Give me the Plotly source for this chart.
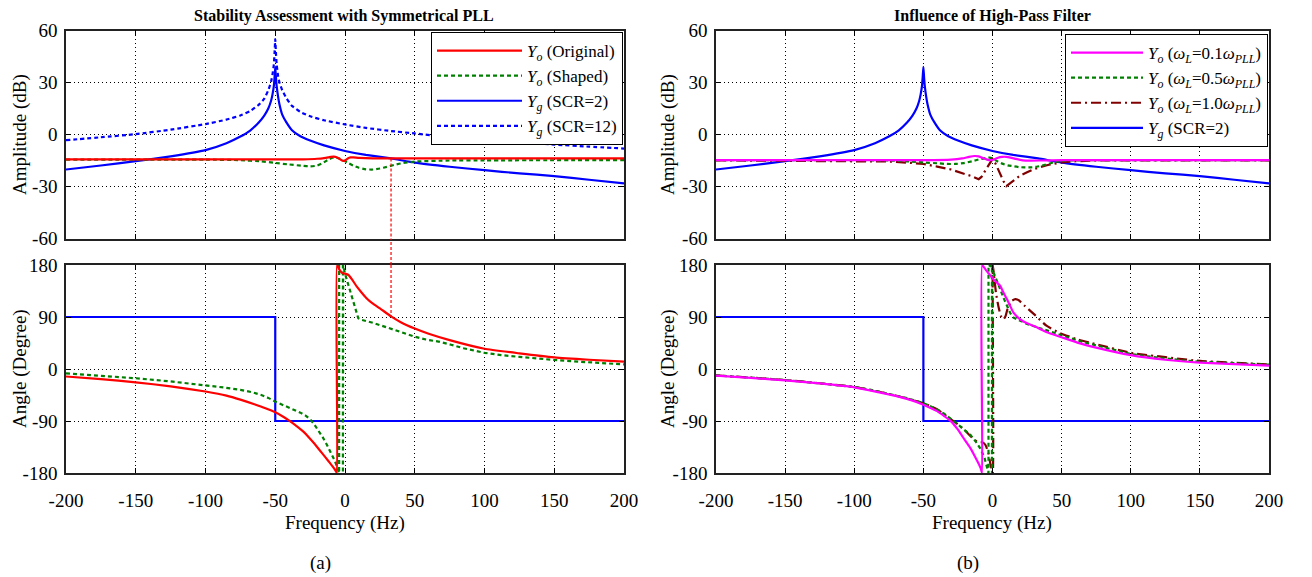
import plotly.graph_objects as go

REF_W, REF_H = 1312, 577
OFF = 8                      # browser body margin
W, H = REF_W - OFF, REF_H - OFF
SERIF = "Liberation Serif, Times New Roman, serif"

# ---------------- tick data ----------------
freq_ticks = [-200, -150, -100, -50, 0, 50, 100, 150, 200]
freq_ticktext = ['-200', '-150', '-100', '-50', '0', '50', '100', '150', '200']
amp_ticks = [-60, -30, 0, 30, 60]
amp_ticktext = ['-60', '-30', '0', '30', '60']
ang_ticks = [-180, -90, 0, 90, 180]
ang_ticktext = ['-180', '-90', '0', '90', '180']

# ---------------- amplitude data (dB) ----------------
yg_f = [-200, -175, -150, -125, -100, -85, -75, -68, -62, -58, -55, -53, -52, -51, -50.5, -50, -49.5, -49, -48, -47,
        -45, -42, -38, -32, -25, -15, 0, 15, 33, 50, 75, 100, 125, 150, 175, 200]
yg2_db = [-20.2, -17.9, -15.4, -12.6, -9.0, -5.0, -1.2, 2.3, 6.8, 10.8, 15.0, 19.5, 23.0, 28.0, 33.0, 39.0, 33.0, 28.0,
          22.0, 17.5, 11.5, 7.0, 2.5, -1.0, -3.5, -6.3, -9.5, -11.8, -13.8, -16.2, -18.6, -20.6, -22.4, -24.0, -26.1, -28.2]
yg12_db = [-3.3, -1.6, 0.2, 2.8, 6.0, 8.6, 11.0, 13.5, 17.0, 20.5, 25.5, 30.5, 34.5, 40.5, 47.0, 55.0, 47.0, 40.5,
           34.0, 30.0, 25.5, 21.0, 16.5, 13.0, 10.5, 8.2, 5.8, 3.8, 2.0, 0.6, -1.5, -3.3, -4.6, -5.8, -7.0, -8.1]

yo_orig_f = [-200, -100, -50, -30, -20, -15, -12, -10, -8, -6, -4, -2, -1, 0, 2, 4, 6, 10, 20, 50, 100, 200]
yo_orig_db = [-14.4, -14.4, -14.4, -14.3, -14.0, -13.6, -13.2, -12.9, -12.8, -13.1, -14.0, -15.0, -15.3, -15.0, -13.8,
              -13.2, -13.2, -13.5, -13.8, -13.8, -13.8, -13.8]

yo_shaped_f = [-200, -100, -75, -60, -50, -40, -30, -25, -20, -16, -12, -9, -7, -4, -1, 2, 6, 10, 15, 20, 25, 30, 35,
               40, 50, 75, 100, 200]
yo_shaped_db = [-14.5, -14.5, -14.8, -15.5, -16.4, -17.3, -18.1, -18.4, -18.0, -16.5, -14.5, -13.4, -13.3, -13.8,
                -15.0, -16.3, -18.0, -19.2, -20.1, -20.2, -19.6, -18.7, -17.6, -16.7, -15.6, -15.0, -14.9, -14.8]

hp01_f = [-200, -100, -50, -30, -22, -17, -13, -10, -7, -4, -1, 1, 4, 7, 10, 13, 17, 22, 27, 35, 50, 100, 200]
hp01_db = [-14.8, -14.8, -14.8, -14.5, -13.8, -12.9, -12.4, -12.6, -13.5, -14.5, -14.8, -14.4, -13.4, -12.9, -12.9,
           -13.3, -14.1, -14.9, -15.1, -15.0, -14.8, -14.8, -14.8]

hp05_f = [-200, -100, -75, -60, -50, -40, -33, -27, -21, -15, -9, -5, -2, 0, 3, 7, 11, 15, 19, 23, 27, 32, 38, 44, 50,
          60, 100, 200]
hp05_db = [-14.8, -14.8, -15.0, -15.6, -16.1, -16.6, -17.0, -17.0, -16.5, -15.5, -14.2, -13.6, -13.3, -13.8, -15.2,
           -16.8, -17.8, -18.3, -18.8, -19.0, -19.0, -18.6, -17.5, -16.1, -15.2, -14.9, -14.8, -14.8]

hp10_f = [-200, -100, -75, -60, -50, -40, -30, -20, -15, -10, -8, -5, -2, 0, 2, 5, 8, 10, 12, 15, 20, 25, 30, 35, 40,
          50, 60, 75, 100, 200]
hp10_db = [-14.9, -15.2, -15.6, -16.3, -17.0, -18.5, -20.2, -22.8, -24.0, -25.8, -24.5, -20.5, -16.2, -14.2, -16.5,
           -22.0, -27.0, -29.8, -28.5, -26.5, -23.7, -21.8, -20.0, -18.7, -17.6, -16.1, -15.4, -15.0, -14.9, -14.9]

# ---------------- phase data (degree) ----------------
yg_ph_f = [-200, -50, -50, 200]
yg_ph_deg = [90, 90, -90, -90]

yo_orig_ph_f = [-200, -175, -150, -125, -100, -85, -75, -65, -57, -50, -44, -39, -34, -30, -26, -22, -18, -14, -11,
                -8.5, -6.8, -5.8, -5.8, -4, -2, 0, 2.5, 5, 8.5, 12, 15.6, 20, 25, 33, 40, 50, 60, 75, 100, 125, 150,
                175, 200]
yo_orig_ph_deg = [-13, -17.5, -23, -30, -39, -46, -53, -61, -68, -75, -83, -91, -100, -108, -118, -129, -141, -153,
                  -162, -170, -176, -180, 180, 172, 166, 165, 162.7, 155, 142.5, 132, 122, 113, 105, 91, 81, 70,
                  61, 50, 35, 27, 20, 16, 12.7]

yo_shaped_ph_f = [-200, -175, -150, -125, -100, -87, -75, -67, -60, -55, -50, -45, -40, -36, -32, -28, -25, -22, -19,
                  -16, -13, -10, -7.5, -5.5, -4.2, -4.2, -2.2, -1.5, -1.5, -1.3, -1.3, 0, 1.3, 2.7, 4, 5, 6, 7, 8, 9.5,
                  12, 16, 20, 25, 30, 35, 40, 45, 50, 58, 68, 76, 85, 100, 112, 125, 137, 150, 162, 175, 187, 200]
yo_shaped_ph_deg = [-7.5, -11.5, -16, -21.5, -28, -32, -36, -40, -45, -50, -56.5, -61.5, -67, -71, -75.5, -81, -87,
                    -96, -106, -118, -131, -145, -158, -170, -180, 180, 178, 180, -180, -180, 180, 165, 154, 143, 133,
                    123, 114, 105, 96, 88, 85, 83, 80, 76, 72, 68, 64.5, 60, 56, 51, 47, 42, 36, 28, 24, 21, 18, 15.6,
                    13.5, 11.5, 9.7, 8]

hp01_ph_f = [-200, -175, -150, -125, -100, -75, -60, -50, -40, -30, -25, -20, -16, -13, -10, -8.5, -7.5, -7.5, -5, -2,
             0.8, 3, 5.6, 8, 10.4, 13, 15.2, 20, 25, 30, 40, 50, 62, 75, 100, 125, 150, 175, 200]
hp01_ph_deg = [-11.6, -15.5, -19.6, -25, -31.7, -44, -53, -61.7, -73, -90.6, -105, -123, -137, -150, -164, -172, -180,
               180, 172, 163, 155, 150, 144, 132, 121, 108, 97.5, 86, 79, 74.3, 63, 55, 45.3, 37, 24, 16, 11, 8.5, 6]

hp05_ph_f = [-200, -175, -150, -125, -100, -87, -75, -62, -50, -45, -40, -35, -30, -27, -24, -20, -16, -12, -9, -6,
             -4.2, -2.9, -2.9, -1.5, -0.4, -0.4, -0.2, -0.2, 0.8, 3, 5.6, 8, 10.4, 13, 15.2, 20, 25, 30, 35, 40, 45,
             50, 56, 62, 68, 75, 87, 100, 112, 125, 137, 150, 162, 175, 187, 200]
hp05_ph_deg = [-11, -15, -19, -25, -31, -36.5, -43, -50.5, -59, -64, -70, -77.5, -86, -92, -98, -106, -114, -126, -137,
               -152, -170, -180, 180, 178, 180, -180, -180, 180, 167, 152, 138, 123, 109, 96, 89, 83, 78, 74, 70, 66,
               62.5, 59, 54, 49, 45, 41, 33, 26, 22, 18, 15, 12.5, 11, 9.5, 8.5, 7.5]

hp10_ph_f = [-200, -150, -100, -75, -50, -40, -30, -25, -20, -16, -13, -10, -7, -5, -3, -1.5, 0.2, 0.2, 1.2, 2.5, 4.3,
             6, 8, 9.5, 11, 14, 16.5, 19, 23, 30, 39, 49, 62, 75, 100, 150, 200]
hp10_ph_deg = [-11, -19, -31, -43, -59, -70, -87, -96, -106, -116, -123, -126, -127, -132, -145, -165, -180, 180, 160,
               132, 108, 92, 86, 92, 105, 118, 121, 119, 110, 95, 75, 62, 51, 43, 28, 14, 8]

# crossing marker (Yo original meets Yg SCR=2)
cross_freq = 33
cross_amp = -13.8
cross_phase = 91

# ---------------- colours / styles ----------------
RED = '#ff0000'
GREEN = '#008000'
BLUE = '#0000ff'
MAGENTA = '#ff00ff'
DARKRED = '#800000'
LW = 2.2
SHORTDASH = '4px,3px'
DASHDOT = '10px,4px,2px,4px'

fig = go.Figure()


def add(x, y, xa, ya, color, dash='solid', name=None, legend=None, rank=None, width=LW, smooth=True):
    fig.add_trace(go.Scatter(
        x=x, y=y, xaxis=xa, yaxis=ya, mode='lines',
        line=dict(color=color, width=width, dash=dash,
                  shape='spline' if smooth else 'linear', smoothing=0.4),
        name=name if name else '', showlegend=name is not None,
        legend=legend if legend else 'legend', legendrank=rank if rank else 1000,
        hoverinfo='skip'))


# left top
add(yg_f, yg12_db, 'x', 'y', BLUE, SHORTDASH, '<i>Y</i><sub><i>g</i></sub> (SCR=12)', 'legend', 4)
add(yg_f, yg2_db, 'x', 'y', BLUE, 'solid', '<i>Y</i><sub><i>g</i></sub> (SCR=2)', 'legend', 3)
add(yo_shaped_f, yo_shaped_db, 'x', 'y', GREEN, SHORTDASH, '<i>Y</i><sub><i>o</i></sub> (Shaped)', 'legend', 2)
add(yo_orig_f, yo_orig_db, 'x', 'y', RED, 'solid', '<i>Y</i><sub><i>o</i></sub> (Original)', 'legend', 1)

# right top
add(yg_f, yg2_db, 'x2', 'y2', BLUE, 'solid', '<i>Y</i><sub><i>g</i></sub> (SCR=2)', 'legend2', 4)
add(hp10_f, hp10_db, 'x2', 'y2', DARKRED, DASHDOT,
    '<i>Y</i><sub><i>o</i></sub> (<i>ω</i><sub><i>L</i></sub>=1.0<i>ω</i><sub><i>PLL</i></sub>)', 'legend2', 3,
    smooth=False)
add(hp05_f, hp05_db, 'x2', 'y2', GREEN, SHORTDASH,
    '<i>Y</i><sub><i>o</i></sub> (<i>ω</i><sub><i>L</i></sub>=0.5<i>ω</i><sub><i>PLL</i></sub>)', 'legend2', 2)
add(hp01_f, hp01_db, 'x2', 'y2', MAGENTA, 'solid',
    '<i>Y</i><sub><i>o</i></sub> (<i>ω</i><sub><i>L</i></sub>=0.1<i>ω</i><sub><i>PLL</i></sub>)', 'legend2', 1)

# left bottom
add(yg_ph_f, yg_ph_deg, 'x3', 'y3', BLUE, smooth=False)
add(yo_shaped_ph_f, yo_shaped_ph_deg, 'x3', 'y3', GREEN, SHORTDASH, smooth=False)
add(yo_orig_ph_f, yo_orig_ph_deg, 'x3', 'y3', RED)

# right bottom
add(yg_ph_f, yg_ph_deg, 'x4', 'y4', BLUE, smooth=False)
add(hp10_ph_f, hp10_ph_deg, 'x4', 'y4', DARKRED, DASHDOT)
add(hp05_ph_f, hp05_ph_deg, 'x4', 'y4', GREEN, SHORTDASH, smooth=False)
add(hp01_ph_f, hp01_ph_deg, 'x4', 'y4', MAGENTA)


# ---------------- layout (reference pixel positions -> paper fractions) ----------------
def px(x):
    return (x - OFF) / W


def py(y):
    return 1 - (y - OFF) / H


XL = [px(66), px(624)]
XR = [px(716), px(1269)]
YT = [py(238.5), py(30.5)]
YB = [py(473), py(265)]

tickfont = dict(family=SERIF, size=19, color='black')
GRID = '1px,3px'


def xax(domain, anchor, labels):
    return dict(domain=domain, anchor=anchor, range=[-200, 200], tickvals=freq_ticks, ticktext=freq_ticktext,
                showticklabels=labels, ticks='inside', ticklen=5, tickcolor='black', tickwidth=1,
                showline=True, linecolor='#222222', linewidth=1.5, mirror='ticks',
                showgrid=True, gridcolor='black', gridwidth=1, griddash=GRID, zeroline=False,
                tickfont=tickfont, ticklabelstandoff=9)


def yax(domain, anchor, ticks, text, rng):
    return dict(domain=domain, anchor=anchor, range=rng, tickvals=ticks, ticktext=text,
                ticks='inside', ticklen=5, tickcolor='black', tickwidth=1,
                showline=True, linecolor='#222222', linewidth=1.5, mirror='ticks',
                showgrid=True, gridcolor='black', gridwidth=1, griddash=GRID, zeroline=False,
                tickfont=tickfont, ticklabelstandoff=3)


legend_common = dict(bgcolor='white', bordercolor='black', borderwidth=1,
                     font=dict(family=SERIF, size=17, color='black'), tracegroupgap=0,
                     yanchor='top', xanchor='right', traceorder='normal')

fig.update_layout(
    width=W, height=H, margin=dict(l=0, r=0, t=0, b=0, autoexpand=False),
    paper_bgcolor='white', plot_bgcolor='white',
    font=dict(family=SERIF, size=19, color='black'),
    xaxis=xax(XL, 'y', False),
    yaxis=yax(YT, 'x', amp_ticks, amp_ticktext, [-60, 60]),
    xaxis2=xax(XR, 'y2', False),
    yaxis2=yax(YT, 'x2', amp_ticks, amp_ticktext, [-60, 60]),
    xaxis3=xax(XL, 'y3', True),
    yaxis3=yax(YB, 'x3', ang_ticks, ang_ticktext, [-180, 180]),
    xaxis4=xax(XR, 'y4', True),
    yaxis4=yax(YB, 'x4', ang_ticks, ang_ticktext, [-180, 180]),
    legend=dict(x=px(623), y=py(32), itemwidth=85, **legend_common),
    legend2=dict(x=px(1268), y=py(34), itemwidth=72, **legend_common),
    showlegend=True,
)

# crossing dashed line (top panel -> gap -> bottom panel)
red_dot = dict(color=RED, width=1.2, dash='3px,2px')
fig.add_shape(type='line', xref='x', yref='y', x0=cross_freq, x1=cross_freq, y0=cross_amp, y1=-60, line=red_dot)
fig.add_shape(type='line', xref='x', yref='paper', x0=cross_freq, x1=cross_freq, y0=YB[1], y1=YT[0], line=red_dot)
fig.add_shape(type='line', xref='x3', yref='y3', x0=cross_freq, x1=cross_freq, y0=180, y1=cross_phase, line=red_dot)


# ---------------- text ----------------
def ann(x, y, text, size=19, angle=0, bold=False):
    fig.add_annotation(x=px(x), y=py(y), xref='paper', yref='paper', text=f'<b>{text}</b>' if bold else text,
                       showarrow=False, textangle=angle, xanchor='center', yanchor='middle',
                       font=dict(family=SERIF, size=size, color='black'))


ann(344, 16, 'Stability Assessment with Symmetrical PLL', 16, bold=True)
ann(992, 16, 'Influence of High-Pass Filter', 16, bold=True)
ann(20, 135, 'Amplitude (dB)', 19, -90)
ann(20, 369, 'Angle (Degree)', 19, -90)
ann(668, 135, 'Amplitude (dB)', 19, -90)
ann(668, 369, 'Angle (Degree)', 19, -90)
ann(345, 523, 'Frequency (Hz)', 19)
ann(992, 523, 'Frequency (Hz)', 19)
ann(320, 563, '(a)', 19)
ann(968, 563, '(b)', 19)

fig.write_html("out.html")
